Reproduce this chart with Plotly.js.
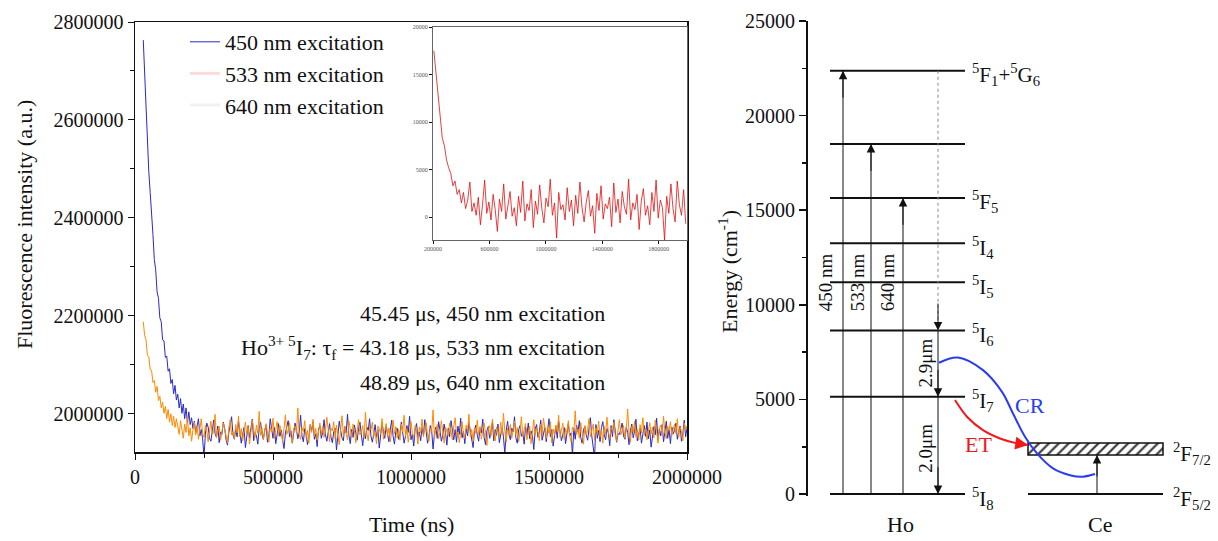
<!DOCTYPE html>
<html>
<head>
<meta charset="utf-8">
<script src="https://cdn.plot.ly/plotly-3.0.1.min.js"></script>
<style>html,body{margin:0;padding:0;background:#fff;}#chart{width:1218px;height:541px;}</style>
</head>
<body>
<div id="chart"></div>
<script>
// ---------------- DATA ----------------
// Decay curves (values in thousands of a.u.), sampled evenly from 30000 ns to 2000000 ns
const T_START = 30000, T_END = 2000000;
const blue450K = [2763,2690,2612,2561,2494,2452,2396,2366,2315,2294,2249,2236,2196,2188,2151,2149,2115,2118,2087,2092,
2062,2070,2041,2058,2028,2040,2012,2031,2001,2020,1990,2012,1981,2004,1978,
1992,1970,1985,1961,1978,1990,1955,1968,1949,1912,1958,1981,1973,1950,1944,1966,1987,1960,1952,1975,
1941,1963,1958,1983,1970,1947,1936,1962,1979,1994,1957,1948,1969,1953,1985,1966,1940,1958,1972,1931,
1960,1976,1951,1967,1989,1945,1962,1955,1938,1971,1983,1959,1948,1966,1977,1942,1956,1990,1963,1950,
1972,1939,1958,1980,1954,1967,1946,1929,1961,1974,1986,1953,1965,1940,1957,1981,1968,1949,1962,1997,
1955,1943,1970,1960,1937,1952,1978,1965,1984,1948,1959,1933,1969,1975,1950,1962,1988,1957,1944,1966,
1980,1953,1941,1963,1971,1926,1958,1985,1967,1951,1945,1974,1961,1999,1956,1939,1968,1952,1977,1963,
1946,1970,1983,1958,1935,1962,1949,1973,1966,1990,1954,1942,1961,1978,1952,1968,1930,1957,1982,1964,
1950,1975,1960,1943,1968,1987,1955,1938,1964,1971,1948,1959,1983,1966,1940,1954,1976,1962,1995,1947,
1958,1934,1969,1980,1952,1963,1945,1972,1957,1988,1961,1940,1954,1976,1965,1928,1959,1973,1950,1984,
1967,1944,1956,1979,1962,1936,1971,1953,1986,1960,1947,1968,1942,1975,1958,1991,1951,1964,1939,1970,
1955,1982,1963,1948,1931,1966,1977,1957,1944,1970,1961,1989,1952,1937,1965,1974,1950,1962,1983,1945,
1968,1956,1979,1941,1960,1972,1953,1918,1966,1985,1958,1947,1971,1963,1994,1951,1940,1967,1976,1954,
1962,1938,1973,1957,1981,1949,1965,1955,1927,1969,1978,1952,1963,1987,1946,1959,1972,1943,1966,1990,
1953,1968,1934,1961,1975,1950,1984,1964,1945,1957,1972,1939,1966,1980,1955,1961,1915,1970,1948,1977,
1963,1986,1952,1940,1968,1974,1957,1946,1969,1992,1955,1936,1910,1978,1950,1966,1943,1972,1984,1958,
1947,1970,1961,1935,1976,1953,1988,1965,1942,1959,1958,1968,1981,1955,1948,1973,1962,1937,1966,1979,
1951,1964,1989,1945,1958,1971,1940,1963,1976,1954,1983,1949,1967,1932,1960,1974,1957,1991,1946,1969,
1955,1978,1943,1962,1985,1950,1968,1939,1973,1959,1966,1981,1948,1963,1975,1944,1960,1987,1953,1970];
const orange640K = [2188,2160,2151,2119,2117,2090,2089,2064,2068,2044,2056,2027,2036,2012,2024,2001,2015,1990,2009,1983,
2000,1976,1995,1972,1990,
1975,1958,1986,1967,1950,1979,1962,1993,1955,1971,1944,1968,1983,1957,1974,1948,1965,1990,1960,1952,
1977,1966,1943,1970,1985,1958,1962,1999,1951,1967,1975,1946,1960,1981,1969,1955,1940,1972,1988,1957,
1964,1949,1978,1961,1995,1953,1970,1945,1966,1983,1958,1974,1938,1962,1987,1969,1952,1977,1960,2005,
1956,1971,1947,1965,1980,1959,1942,1973,1963,1991,1950,1968,1984,1955,1976,1961,1944,1970,1998,1958,
1967,1982,1953,1941,1969,1975,1960,2012,1957,1948,1972,1964,1986,1951,1967,1940,1978,1962,1989,1954,
1970,1946,1963,1981,1958,1974,1952,1966,1993,1959,1943,1971,1965,1984,1949,1977,1961,1937,1968,1996,
1955,1973,1960,1947,1985,1964,1952,1979,1966,1941,1970,1988,1957,1963,1976,1950,2003,1961,1945,1972,
1967,1983,1954,1962,1939,1975,1969,1958,1990,1948,1966,1980,1956,1971,1943,1964,1987,1959,1974,1951,
1968,1946,1979,1963,1997,1955,1970,1942,1965,1984,1960,1951,1976,1966,1938,1973,1961,1989,1953,1969,
1982,1957,1944,1971,1964,2008,1952,1967,1978,1949,1962,1986,1958,1940,1973,1966,1955,1981,1961,1947,
1975,1992,1956,1963,1941,1970,1984,1959,1950,1977,1965,1999,1953,1968,1944,1972,1960,1987,1957,1974,
1948,1966,1981,1962,1935,1969,1976,1955,1989,1961,1945,1973,1967,1952,1983,1958,2001,1964,1942,1970,
1959,1978,1950,1966,1985,1957,1972,1943,1963,1994,1954,1968,1980,1947,1961,1975,1939,1967,1988,1956,
1971,1962,1945,1979,1958,1991,1966,1950,1974,1960,1984,1941,1969,1956,1977,1963,1997,1952,1966,1981,
1948,1970,1960,1986,1955,1943,1973,1965,2006,1958,1969,1950,1982,1962,1938,1976,1957,1968,1990,1953,
1964,1979,1946,1971,1961,1985,1952,1967,1940,1975,1958,1993,1963,1949,1972,1966,1983,1955,1944,1970,
1988,1957,1965,1976,1950,1968,2010,1960,1942,1974,1963,1985,1953,1969,1946,1978,1961,1992,1956,1971,
1947,1966,1982,1959,1973,1951,1987,1964,1940,1970,1977,1958,1995,1962,1949,1975,1966,1984,1955,1968,
1979,1960,1990,1952,1973,1964,1945,1981,1967,1975];
// Inset: 533 nm excitation decay (background subtracted), evenly sampled 206000 ns .. 1991000 ns
const TI_START = 206000, TI_END = 1991000;
const red533 = [17500,15300,13000,11200,8300,7500,6000,5200,4600,3300,3800,2400,2900,1500,2600,900,1800,3700,600,1500,
200,2100,-800,1300,3900,400,1600,-300,2400,800,-1500,1900,600,3500,-200,1200,2700,100,1000,-900,
2200,500,3800,-400,1400,700,2900,-1100,1700,300,3400,900,-600,2000,1100,4000,200,1500,-2200,2600,
800,1300,-300,3100,600,1800,-900,2300,400,3700,1000,-500,1600,2800,100,1200,-1700,2500,700,3300,
-200,1400,900,2100,-1000,3600,500,1900,-600,2700,1100,300,4000,-300,1500,800,2400,-1300,1700,3000,
200,1200,-800,2600,600,3900,-100,1800,1000,-2400,2200,400,3500,900,-500,3800,1300,200,2900,-700];
const seriesNames = ['450 nm excitation', '533 nm excitation', '640 nm excitation'];
const lifetimes = ['45.45', '43.18', '48.89'];
const xTicks = [0, 500000, 1000000, 1500000, 2000000];
const yTicks = [2000000, 2200000, 2400000, 2600000, 2800000];
const insetXTicks = [200000, 600000, 1000000, 1400000, 1800000];
const insetYTicks = [0, 5000, 10000, 15000, 20000];

// Energy level diagram (cm^-1)
const hoE = [0, 5150, 8650, 11200, 13250, 15650, 18500, 22370];
const hoLabels = ['<sup>5</sup>I<sub>8</sub>', '<sup>5</sup>I<sub>7</sub>', '<sup>5</sup>I<sub>6</sub>', '<sup>5</sup>I<sub>5</sub>',
  '<sup>5</sup>I<sub>4</sub>', '<sup>5</sup>F<sub>5</sub>', '', '<sup>5</sup>F<sub>1</sub>+<sup>5</sup>G<sub>6</sub>'];
const ceE = [0];
const ceBand = [2060, 2700];
const ceLabels = ['<sup>2</sup>F<sub>5/2</sub>', '<sup>2</sup>F<sub>7/2</sub>'];
const excNm = ['450 nm', '533 nm', '640 nm'];
const excTop = [22370, 18500, 15650];
const emisLabels = ['2.9μm', '2.0μm'];
const energyTicks = [0, 5000, 10000, 15000, 20000, 25000];
// CR and ET paths (x in diagram units, energy in cm^-1)
const crX = [131, 150, 175, 194, 205, 217, 229, 245, 262, 275, 287];
const crE = [6940, 7220, 6550, 5400, 4260, 3030, 2150, 1360, 1000, 920, 1060];
const etX = [147, 159, 175, 192, 209, 220];
const etE = [4970, 4090, 3380, 2940, 2680, 2590];

// ---------------- LAYOUT CONSTANTS ----------------
const FONT = 'Liberation Serif';
const W = 1218, H = 541;
const px = v => v / W, py = v => 1 - v / H;
const HO_X = [22, 157], CE_X = [220, 355];
const EXC_X = [35, 63, 95], EXC_LABEL_X = [17, 49, 79];
const EMIS_X = 130, CE_ARROW_X = 289;

const even = (n, a, b) => Array.from({length: n}, (_, i) => a + i * (b - a) / (n - 1));
const timeB = even(blue450K.length, T_START, T_END);
const timeO = even(orange640K.length, T_START, T_END);
const timeI = even(red533.length, TI_START, TI_END);
const k = v => v * 1000;

const traces = [];
traces.push({type: 'scatter', mode: 'lines', name: seriesNames[0], x: timeB, y: blue450K.map(k),
  line: {color: '#2a2ac8', width: 1}, xaxis: 'x', yaxis: 'y', hoverinfo: 'skip'});
// legend entries as they appear (faded) in the figure
traces.push({type: 'scatter', mode: 'lines', name: seriesNames[1], x: [null], y: [null],
  line: {color: 'rgba(255,150,150,0.35)', width: 3}, xaxis: 'x', yaxis: 'y', hoverinfo: 'skip'});
traces.push({type: 'scatter', mode: 'lines', name: seriesNames[2], x: [null], y: [null],
  line: {color: 'rgba(210,210,210,0.3)', width: 3}, xaxis: 'x', yaxis: 'y', hoverinfo: 'skip'});
traces.push({type: 'scatter', mode: 'lines', name: seriesNames[2], x: timeO, y: orange640K.map(k), showlegend: false,
  line: {color: '#ff8a00', width: 1}, xaxis: 'x', yaxis: 'y', hoverinfo: 'skip'});
traces.push({type: 'scatter', mode: 'lines', name: seriesNames[1], x: timeI, y: red533, showlegend: false,
  line: {color: '#e01010', width: 0.8}, xaxis: 'x2', yaxis: 'y2', hoverinfo: 'skip'});

// energy levels
const lx = [], ly = [];
hoE.forEach(e => { lx.push(HO_X[0], HO_X[1], null); ly.push(e, e, null); });
ceE.forEach(e => { lx.push(CE_X[0], CE_X[1], null); ly.push(e, e, null); });
traces.push({type: 'scatter', mode: 'lines', x: lx, y: ly, showlegend: false, hoverinfo: 'skip',
  line: {color: '#111', width: 2}, xaxis: 'x3', yaxis: 'y3'});
// hatched 2F7/2 band
traces.push({type: 'bar', x: [(CE_X[0] + CE_X[1]) / 2], y: [ceBand[1] - ceBand[0]], base: [ceBand[0]],
  width: [CE_X[1] - CE_X[0]], showlegend: false, hoverinfo: 'skip', xaxis: 'x3', yaxis: 'y3',
  marker: {color: 'white', line: {color: '#111', width: 1.5},
    pattern: {shape: '/', fgcolor: '#333', bgcolor: 'white', size: 7, solidity: 0.3}}});
// excitation lines (arrowheads added as annotations)
const exX = [], exY = [];
excTop.forEach((t, i) => { exX.push(EXC_X[i], EXC_X[i], null); exY.push(0, t, null); });
traces.push({type: 'scatter', mode: 'lines', x: exX, y: exY, showlegend: false, hoverinfo: 'skip',
  line: {color: '#111', width: 1}, xaxis: 'x3', yaxis: 'y3'});
// nonradiative dotted decay
traces.push({type: 'scatter', mode: 'lines', x: [EMIS_X, EMIS_X], y: [hoE[7], hoE[2]], showlegend: false, hoverinfo: 'skip',
  line: {color: '#888', width: 1, dash: 'dot'}, xaxis: 'x3', yaxis: 'y3'});
// radiative transitions
traces.push({type: 'scatter', mode: 'lines', x: [EMIS_X, EMIS_X], y: [hoE[2], hoE[0]], showlegend: false, hoverinfo: 'skip',
  line: {color: '#111', width: 1}, xaxis: 'x3', yaxis: 'y3'});
// Ce excitation
traces.push({type: 'scatter', mode: 'lines', x: [CE_ARROW_X, CE_ARROW_X], y: [ceE[0], ceBand[0]], showlegend: false, hoverinfo: 'skip',
  line: {color: '#111', width: 1}, xaxis: 'x3', yaxis: 'y3'});
// CR and ET
traces.push({type: 'scatter', mode: 'lines', x: crX, y: crE, showlegend: false, hoverinfo: 'skip',
  line: {color: '#2a3cf0', width: 2, shape: 'spline'}, xaxis: 'x3', yaxis: 'y3'});
traces.push({type: 'scatter', mode: 'lines', x: etX, y: etE, showlegend: false, hoverinfo: 'skip',
  line: {color: '#f01818', width: 2, shape: 'spline'}, xaxis: 'x3', yaxis: 'y3'});

// ---------------- ANNOTATIONS ----------------
const ann = [];
const f = (size, color) => ({family: FONT, size: size, color: color || '#111'});
const arrow = (x, y, ax, ay, color, w) => ({x, y, ax, ay, xref: 'x3', yref: 'y3', axref: 'x3', ayref: 'y3',
  text: '', showarrow: true, arrowhead: 2, arrowsize: 1.7, arrowwidth: w || 1, arrowcolor: color || '#111', standoff: 0});
const label = (o) => Object.assign({showarrow: false, xanchor: 'center', yanchor: 'middle'}, o);
const lines = [
  lifetimes[0] + ' μs, ' + seriesNames[0],
  'Ho<sup>3+ 5</sup>I<sub>7</sub>: τ<sub>f</sub> = ' + lifetimes[1] + ' μs, ' + seriesNames[1],
  lifetimes[2] + ' μs, ' + seriesNames[2]];
[313, 347, 382].forEach((yy, i) => ann.push(label({xref: 'paper', yref: 'paper', x: px(607), y: py(yy), xanchor: 'right',
  text: lines[i], font: f(22)})));
ann.push(label({xref: 'paper', yref: 'paper', x: px(25), y: py(225), text: 'Fluorescence intensity (a.u.)', textangle: -90, font: f(22)}));
ann.push(label({xref: 'paper', yref: 'paper', x: px(412), y: py(524), text: 'Time (ns)', font: f(22)}));
ann.push(label({xref: 'paper', yref: 'paper', x: px(728), y: py(272), text: 'Energy (cm<sup>-1</sup>)', textangle: -90, font: f(22)}));
hoE.forEach((e, i) => { if (hoLabels[i]) ann.push(label({xref: 'x3', yref: 'y3', x: HO_X[1] + 5, y: e, xanchor: 'left',
  yshift: -4, text: hoLabels[i], font: f(21)})); });
ann.push(label({xref: 'x3', yref: 'y3', x: CE_X[1] + 8, y: ceE[0], xanchor: 'left', yshift: -4, text: ceLabels[0], font: f(21)}));
ann.push(label({xref: 'x3', yref: 'y3', x: CE_X[1] + 8, y: (ceBand[0] + ceBand[1]) / 2, xanchor: 'left', yshift: -4,
  text: ceLabels[1], font: f(21)}));
excTop.forEach((t, i) => {
  ann.push(arrow(EXC_X[i], t, EXC_X[i], t - 1500));
  ann.push(label({xref: 'x3', yref: 'y3', x: EXC_LABEL_X[i], y: 11200, text: excNm[i], textangle: -90, font: f(19)}));
});
ann.push(arrow(EMIS_X, hoE[2], EMIS_X, hoE[2] + 1500));
ann.push(arrow(EMIS_X, hoE[1], EMIS_X, hoE[1] + 1500));
ann.push(arrow(EMIS_X, hoE[0], EMIS_X, hoE[0] + 1500));
ann.push(arrow(CE_ARROW_X, ceBand[0], CE_ARROW_X, ceBand[0] - 1200));
ann.push(arrow(etX[etX.length - 1], etE[etE.length - 1], etX[etX.length - 2], etE[etE.length - 2], '#f01818', 1.5));
ann.push(label({xref: 'x3', yref: 'y3', x: EMIS_X - 12, y: 6900, text: emisLabels[0], textangle: -90, font: f(19)}));
ann.push(label({xref: 'x3', yref: 'y3', x: EMIS_X - 12, y: 2400, text: emisLabels[1], textangle: -90, font: f(19)}));
ann.push(label({xref: 'x3', yref: 'y3', x: 222, y: 4700, text: 'CR', font: f(22, '#2a3cf0')}));
ann.push(label({xref: 'x3', yref: 'y3', x: 170, y: 2600, text: 'ET', font: f(22, '#f01818')}));
ann.push(label({xref: 'x3', yref: 'paper', x: 92, y: py(524), text: 'Ho', font: f(22)}));
ann.push(label({xref: 'x3', yref: 'paper', x: 292, y: py(524), text: 'Ce', font: f(22)}));

const axBase = {showgrid: false, zeroline: false, showline: true, linecolor: '#111', ticks: 'outside', tickcolor: '#111',
  tickfont: f(20)};
const layout = {
  width: W, height: H, margin: {l: 0, r: 0, t: 0, b: 0}, paper_bgcolor: 'white', plot_bgcolor: 'white',
  font: {family: FONT, color: '#111'}, showlegend: true,
  legend: {x: px(185), y: py(21), xanchor: 'left', yanchor: 'top', bgcolor: 'rgba(0,0,0,0)', font: f(22), tracegroupgap: 0},
  xaxis: Object.assign({}, axBase, {domain: [px(135), px(687)], range: [0, 2000000], anchor: 'y', mirror: true, linewidth: 1.5,
    tickmode: 'array', tickvals: xTicks, ticktext: xTicks.map(String), ticklen: 6,
    minor: {ticks: 'outside', ticklen: 4, dtick: 250000, tickcolor: '#111'}}),
  yaxis: Object.assign({}, axBase, {domain: [1 - 452 / H, 1 - 22 / H], range: [1922000, 2800000], anchor: 'x', mirror: true, linewidth: 1.5,
    tickmode: 'array', tickvals: yTicks, ticktext: yTicks.map(String), ticklen: 6,
    minor: {ticks: 'outside', ticklen: 4, dtick: 100000, tickcolor: '#111'}}),
  xaxis2: Object.assign({}, axBase, {domain: [px(433), px(687)], range: [200000, 2000000], anchor: 'y2', mirror: true, linewidth: 1,
    linecolor: '#666', tickmode: 'array', tickvals: insetXTicks, ticktext: insetXTicks.map(String), ticklen: 3,
    tickfont: f(6, '#555')}),
  yaxis2: Object.assign({}, axBase, {domain: [1 - 240 / H, 1 - 27 / H], range: [-2400, 20000], anchor: 'x2', mirror: true, linewidth: 1,
    linecolor: '#666', tickmode: 'array', tickvals: insetYTicks, ticktext: insetYTicks.map(String), ticklen: 3,
    tickfont: f(6, '#555')}),
  xaxis3: {domain: [px(808), 1], range: [0, 410], anchor: 'y3', visible: false, fixedrange: true},
  yaxis3: Object.assign({}, axBase, {domain: [1 - 496 / H, 1 - 21 / H], range: [-100, 25000], anchor: 'x3', linewidth: 2,
    tickmode: 'array', tickvals: energyTicks, ticktext: energyTicks.map(String), ticklen: 7, tickwidth: 1.5,
    minor: {ticks: 'outside', ticklen: 4, dtick: 2500, tickcolor: '#111'}}),
  annotations: ann,
  bargap: 0
};
Plotly.newPlot('chart', traces, layout, {displayModeBar: false, staticPlot: true});
</script>
</body>
</html>
